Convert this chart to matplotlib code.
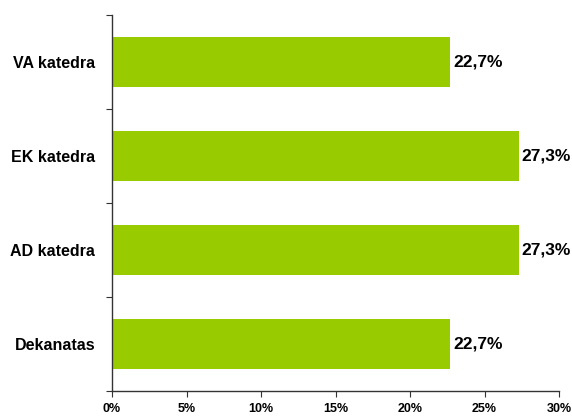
import numpy as np
import matplotlib.pyplot as plt
from matplotlib.ticker import FixedLocator

plt.rcParams['font.family'] = ['Liberation Sans', 'DejaVu Sans']

# Duomenys
kategorijos = ['VA katedra', 'EK katedra', 'AD katedra', 'Dekanatas']
reiksmes = [22.7, 27.3, 27.3, 22.7]
x_ticks = [0, 5, 10, 15, 20, 25, 30]

fig = plt.figure(figsize=(5.72, 4.17), dpi=100)
ax = fig.add_axes([0.1958, 0.0625, 0.7815, 0.9015])

y = np.arange(len(kategorijos))[::-1]
ax.barh(y, reiksmes, height=0.53, color='#99CC00')

for yi, v in zip(y, reiksmes):
    ax.text(v + 0.2, yi, f'{v:.1f}%'.replace('.', ','), va='center', ha='left',
            fontsize=12.5, fontweight='bold')

ax.set_xlim(0, 30)
ax.set_ylim(-0.5, len(kategorijos) - 0.5)

ax.set_xticks(x_ticks)
ax.set_xticklabels([f'{t}%' for t in x_ticks], fontsize=9, fontweight='bold')

# ticks tarp kategoriju, etiketes centre
ax.yaxis.set_major_locator(FixedLocator(np.arange(-0.5, len(kategorijos), 1.0)))
ax.yaxis.set_major_formatter(plt.NullFormatter())
ax.yaxis.set_minor_locator(FixedLocator(y))
ax.set_yticklabels(kategorijos, minor=True, fontsize=11.5, fontweight='bold')
ax.tick_params(axis='y', which='minor', length=0, pad=12)
ax.tick_params(axis='y', which='major', length=4, direction='out', color='#333333')
ax.tick_params(axis='x', length=4, direction='out', pad=5, color='#333333')

for s in ['top', 'right']:
    ax.spines[s].set_visible(False)
for s in ['left', 'bottom']:
    ax.spines[s].set_color('#333333')
    ax.spines[s].set_linewidth(1)

fig.savefig('out.png', dpi=100)
